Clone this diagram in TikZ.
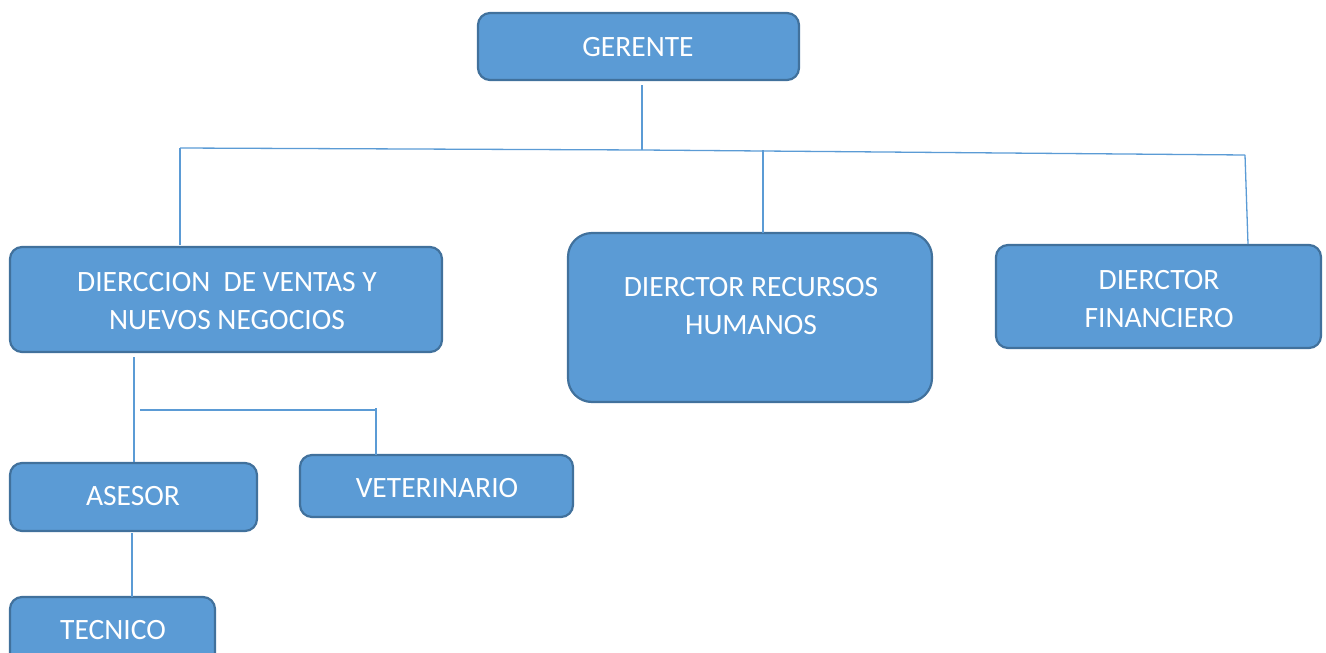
\documentclass[tikz,border=0pt]{standalone}
\usepackage{fontspec}
\setmainfont{Carlito}
\definecolor{boxfill}{HTML}{5B9BD5}
\definecolor{boxedge}{HTML}{41719C}
\definecolor{linkcol}{HTML}{5B9BD5}
\tikzset{
  orgbox/.style={draw=boxedge, line width=2.2pt, fill=boxfill, rounded corners=12pt},
  orglabel/.style={text=white, font=\fontsize{29.5}{38.5}\selectfont, align=center, inner sep=0pt},
  link/.style={draw=linkcol, line width=1.3pt}
}
\begin{document}
\begin{tikzpicture}[x=1pt,y=-1pt]
\useasboundingbox (0,0) rectangle (1326,653);
% boxes
\draw[orgbox] (478,13) rectangle (799,80);
\node[orglabel] (gerente) at (638,47) {GERENTE};
\draw[orgbox] (10,247) rectangle (442,352);
\node[orglabel] (ventas) at (227,301) {DIERCCION~~DE VENTAS Y\\NUEVOS NEGOCIOS};
\draw[orgbox, rounded corners=24pt] (568,233) rectangle (932,402);
\node[orglabel] (rrhh) at (751,306) {DIERCTOR RECURSOS\\HUMANOS};
\draw[orgbox] (996,245) rectangle (1321,348);
\node[orglabel] (fin) at (1159,299) {DIERCTOR\\FINANCIERO};
\draw[orgbox] (10,463) rectangle (257,531);
\node[orglabel] (asesor) at (133,496) {ASESOR};
\draw[orgbox] (300,455) rectangle (573,517);
\node[orglabel] (vet) at (437,488) {VETERINARIO};
\draw[orgbox] (10,597) rectangle (215,680);
\node[orglabel] (tecnico) at (113,630) {TECNICO};
% junction coordinates
\coordinate (gtop) at (642,85);
\coordinate (gj) at (642,150);
\coordinate (hl) at (180,148);
\coordinate (hr) at (1245,155);
\coordinate (vtop) at (180,245);
\coordinate (rj) at (763,150);
\coordinate (rbot) at (763,233);
\coordinate (fbot) at (1248,244);
\coordinate (vs) at (134,357);
\coordinate (ve) at (134,462);
\coordinate (bl) at (140,410);
\coordinate (br) at (376,410);
\coordinate (vetop) at (376,455);
\coordinate (as) at (132,533);
\coordinate (tt) at (132,597);
% connectors
\draw[link] (gtop) -- (gj);
\draw[link] (hl) -- (gj) -- (hr);
\draw[link] (hl) -- (vtop);
\draw[link] (rj) -- (rbot);
\draw[link] (hr) -- (fbot);
\draw[link] (vs) -- (ve);
\draw[link] (bl) -- (br);
\draw[link] (376,408) -- (vetop);
\draw[link] (as) -- (tt);
\end{tikzpicture}
\end{document}
